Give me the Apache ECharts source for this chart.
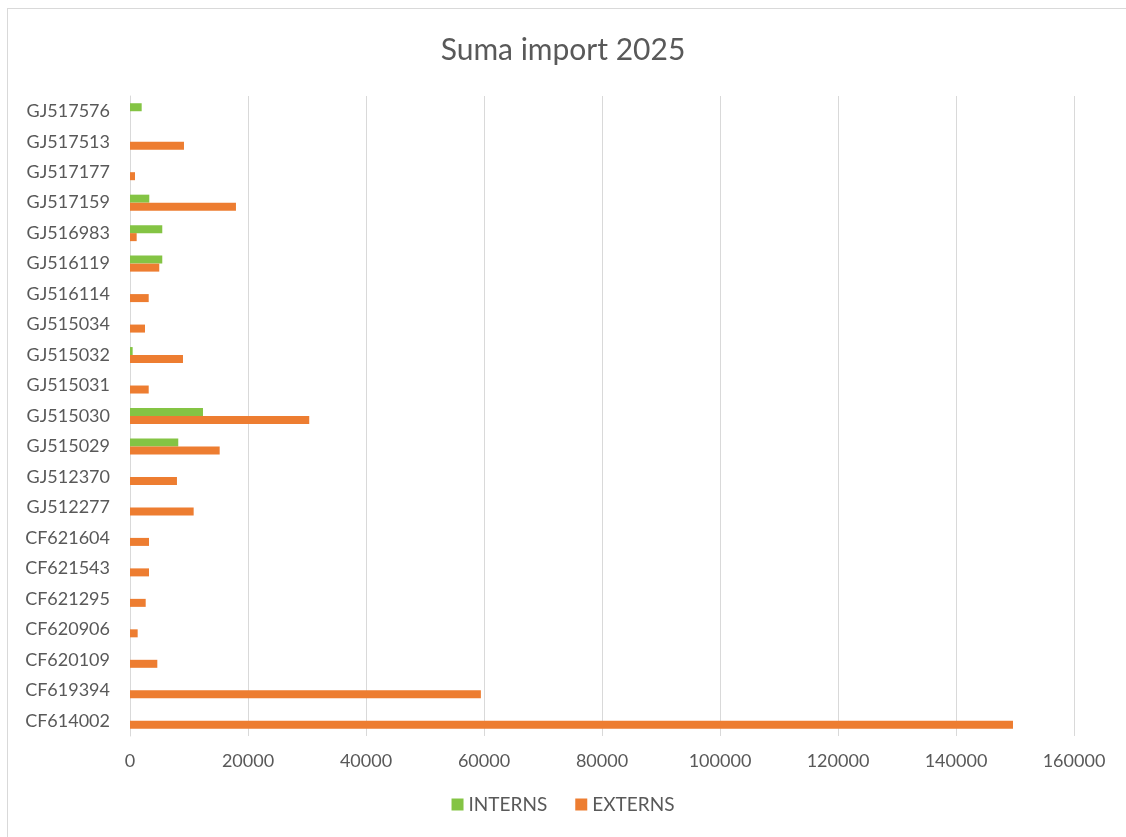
<!DOCTYPE html>
<html>
<head>
<meta charset="utf-8">
<script src="https://cdn.jsdelivr.net/npm/echarts@6/dist/echarts.min.js"></script>
<style>
html,body{margin:0;padding:0;background:#fff;}
#frame{position:absolute;left:7px;top:8px;width:1119px;height:829px;border-left:1px solid #d9d9d9;border-top:1px solid #d9d9d9;}
#chart{position:absolute;left:0;top:0;width:1126px;height:837px;}
</style>
</head>
<body>
<div id="frame"></div>
<div id="chart"></div>
<script>
const categories = ['CF614002','CF619394','CF620109','CF620906','CF621295','CF621543','CF621604','GJ512277','GJ512370','GJ515029','GJ515030','GJ515031','GJ515032','GJ515034','GJ516114','GJ516119','GJ516983','GJ517159','GJ517177','GJ517513','GJ517576'];
const interns = [null,null,null,null,null,null,null,null,null,8180,12370,null,450,null,null,5470,5470,3270,null,null,1980];
const externs = [149660,59470,4630,1300,2660,3220,3220,10790,7960,15200,30380,3170,8980,2540,3170,4960,1130,17960,850,9150,null];
const xTicks = {min:0,max:160000,interval:20000};

const txt = '#595959';
const font = 'Lato';
const chart = echarts.init(document.getElementById('chart'));
chart.setOption({
  animation:false,
  backgroundColor:'transparent',
  title:{text:'Suma import 2025',left:'center',top:30,textStyle:{fontFamily:font,fontSize:30,fontWeight:'normal',color:txt}},
  legend:{bottom:18,left:'center',itemWidth:12,itemHeight:12,itemGap:28,icon:'rect',
    textStyle:{fontFamily:font,fontSize:19,color:txt},data:['INTERNS','EXTERNS']},
  grid:{left:130,right:52,top:96,bottom:101,containLabel:false},
  xAxis:{type:'value',min:xTicks.min,max:xTicks.max,interval:xTicks.interval,
    axisLine:{show:false},axisTick:{show:false},
    axisLabel:{fontFamily:font,fontSize:18,color:txt,margin:16,formatter:function(v){return String(v);}},
    splitLine:{lineStyle:{color:'#d9d9d9',width:1}}},
  yAxis:{type:'category',data:categories,
    axisLine:{show:true,lineStyle:{color:'#d9d9d9'}},axisTick:{show:false},
    axisLabel:{fontFamily:font,fontSize:18,color:txt,margin:20}},
  series:[
    {name:'INTERNS',type:'bar',data:interns,barWidth:8,barGap:'0%',itemStyle:{color:'#84c444'}},
    {name:'EXTERNS',type:'bar',data:externs,barWidth:8,barGap:'0%',itemStyle:{color:'#ed7d31'}}
  ]
});
</script>
</body>
</html>
